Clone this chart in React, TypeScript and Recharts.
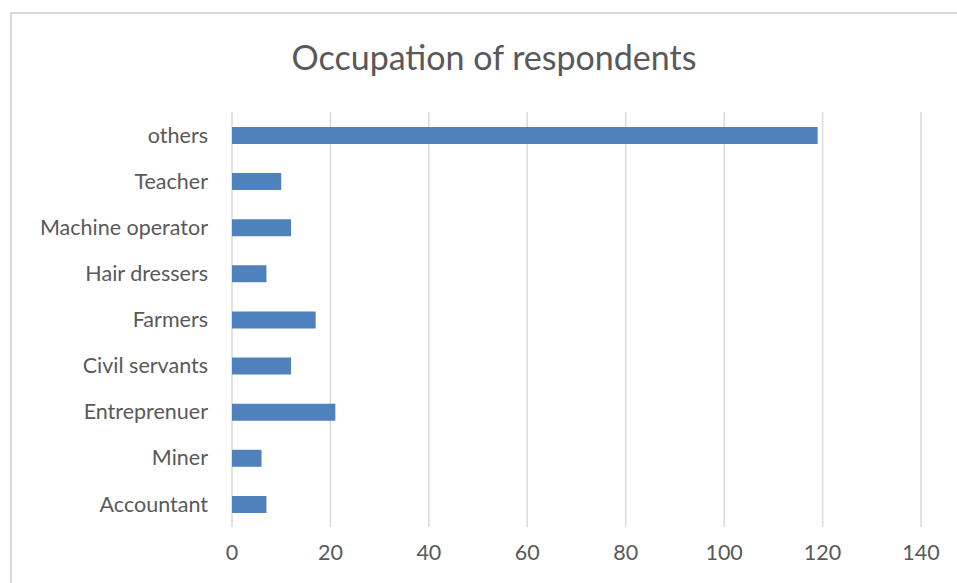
import React from "react";
import { BarChart, Bar, XAxis, YAxis, CartesianGrid } from "recharts";

const categories = [
  "others",
  "Teacher",
  "Machine operator ",
  "Hair dressers",
  "Farmers ",
  "Civil servants",
  "Entreprenuer",
  "Miner",
  "Accountant",
];
const counts = [119, 10, 12, 7, 17, 12, 21, 6, 7];
const xTicks = [0, 20, 40, 60, 80, 100, 120, 140];

const data = categories.map((name, i) => ({ name, value: counts[i] }));

const FONT = "Lato, 'Open Sans', sans-serif";

export default function App() {
  return (
    <div
      style={{
        position: "fixed",
        left: 0,
        top: 0,
        width: 957,
        height: 583,
        overflow: "hidden",
        fontFamily: FONT,
        background: "#fff",
      }}
    >
      <div
        style={{
          position: "absolute",
          left: 10,
          top: 12,
          width: 947,
          height: 2,
          background: "#d9d9d9",
        }}
      />
      <div
        style={{
          position: "absolute",
          left: 10,
          top: 12,
          width: 2,
          height: 571,
          background: "#d9d9d9",
        }}
      />
      <div
        style={{
          position: "absolute",
          left: 0,
          width: 988,
          top: 36,
          textAlign: "center",
          fontSize: 34,
          color: "#595959",
          lineHeight: "42px",
        }}
      >
        Occupation of respondents
      </div>
      <BarChart
        width={957}
        height={583}
        data={data}
        layout="vertical"
        margin={{ top: 112, right: 36, bottom: 26, left: 0 }}
        barSize={17}
        style={{ position: "absolute", left: 0, top: 0 }}
      >
        <CartesianGrid horizontal={false} stroke="#d9d9d9" strokeWidth={1.5} />
        <XAxis
          type="number"
          domain={[0, 140]}
          ticks={xTicks}
          axisLine={false}
          tickLine={false}
          tickSize={0}
          tickMargin={18}
          height={30}
          tick={{ fill: "#595959", fontSize: 21.5, fontFamily: FONT }}
        />
        <YAxis
          type="category"
          dataKey="name"
          width={232}
          axisLine={false}
          tickLine={false}
          tickSize={0}
          tickMargin={24}
          interval={0}
          tick={{ fill: "#595959", fontSize: 21.5, fontFamily: FONT }}
        />
        <Bar dataKey="value" fill="#4f81bd" isAnimationActive={false} />
      </BarChart>
    </div>
  );
}
